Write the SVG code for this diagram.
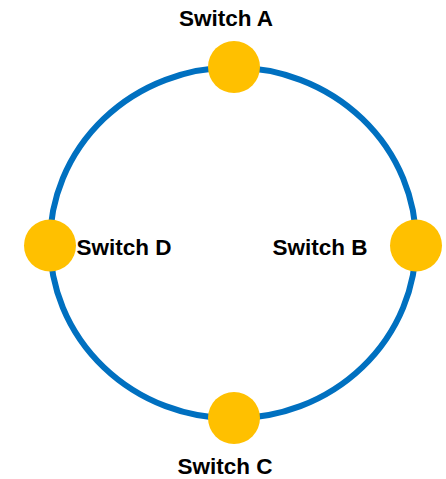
<svg xmlns="http://www.w3.org/2000/svg" width="446" height="479" viewBox="0 0 446 479">
<style>
.ring{fill:none;stroke:#0070C0;stroke-width:6}
.node{fill:#FFC000}
.lbl{font-family:"Liberation Sans",Arial,sans-serif;font-weight:bold;font-size:22.5px;fill:#000;text-anchor:middle}
</style>
<rect width="446" height="479" fill="#fff"/>
<g id="connectors">
<ellipse class="ring" cx="233" cy="243" rx="183" ry="175.5"/>
</g>
<g id="switch-a"><circle class="node" cx="234" cy="67" r="26"/><text class="lbl" x="226" y="26">Switch A</text></g>
<g id="switch-b"><circle class="node" cx="416" cy="245.5" r="26"/><text class="lbl" x="320" y="255">Switch B</text></g>
<g id="switch-c"><circle class="node" cx="234" cy="418" r="26"/><text class="lbl" x="225" y="474">Switch C</text></g>
<g id="switch-d"><circle class="node" cx="50" cy="245.5" r="26"/><text class="lbl" x="124" y="255">Switch D</text></g>
</svg>
